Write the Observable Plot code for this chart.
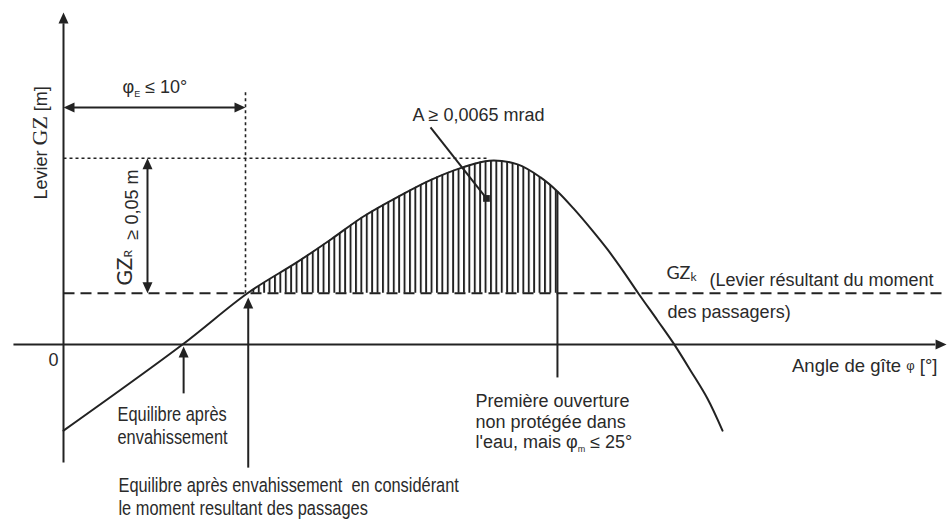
<!DOCTYPE html>
<html>
<head>
<meta charset="utf-8">
<script src="https://cdn.jsdelivr.net/npm/d3@7"></script>
<script src="https://cdn.jsdelivr.net/npm/@observablehq/plot@0.6"></script>
<style>
html, body { margin: 0; padding: 0; background: #fff; }
svg text { white-space: pre; }
</style>
</head>
<body>
<div id="chart"></div>
<script>
// ---- data (angle in degrees, righting lever GZ in metres) ----
const angle = [0, 6.54, 10.11, 12.86, 14.67, 16.48, 18.35, 20.16, 21.98, 23.41, 24.95, 26.21, 27.14, 28.02, 28.96, 29.89, 30.77, 31.59, 32.64, 33.52, 34.45, 35.38, 36.21];
const gz    = [-0.0319, 0.0, 0.019, 0.0306, 0.0388, 0.0474, 0.0546, 0.0609, 0.0657, 0.0681, 0.0667, 0.0619, 0.0567, 0.0504, 0.0430, 0.0352, 0.0270, 0.0189, 0.0089, 0.0004, -0.0096, -0.0200, -0.0319];
const GZk = 0.019;        // heeling lever from passenger moment
const GZR = 0.05;         // required residual lever
const phiE = 10;          // equilibrium limit
const phiEq = 6.6;        // equilibrium after flooding
const phiK = 10.15;       // equilibrium with passenger moment
const phiM = 27.14;       // first unprotected opening
const peakAngle = 23.4;

const curve = angle.map((a, i) => ({a, gz: gz[i]}));
const hatch = curve.filter(d => d.a >= 10.11 && d.a <= phiM);

const ink = "#222";
const txt = "#2a2a2a";
const sans = "'Liberation Sans', Arial, sans-serif";
const narrow = "'Liberation Sans Narrow', 'Arial Narrow', 'Liberation Sans', Arial, sans-serif";
const lato = "Lato, 'Open Sans', sans-serif";

// arrow head symbol: tip at origin, pointing up
const head = {draw(ctx) { ctx.moveTo(0, 0); ctx.lineTo(-5, 11); ctx.lineTo(5, 11); ctx.closePath(); }};

function label(x, y, text, opts = {}) {
  return Plot.text([{x, y, text}], {x: "x", y: "y", text: "text", textAnchor: "start", lineAnchor: "bottom",
    fontSize: 18, fontFamily: sans, fill: txt, ...opts});
}
function seg(list, opts = {}) {
  return Plot.link(list, {x1: "x1", y1: "y1", x2: "x2", y2: "y2", stroke: ink, strokeWidth: 2, ...opts});
}

const plot = Plot.plot({
  width: 948,
  height: 519,
  margin: 0,
  x: {domain: [0, 10], range: [63, 245]},
  y: {domain: [0, 0.05], range: [344, 209]},
  axis: null,
  style: {background: "#fff", fontFamily: sans, fontSize: "18px", color: ink},
  marks: [
    // hatched area A
    Plot.areaY(hatch, {x: "a", y1: GZk, y2: "gz", curve: "catmull-rom", fill: "url(#hatch)"}),
    // dotted guides
    seg([{x1: 0, y1: GZk + GZR, x2: peakAngle, y2: GZk + GZR}, {x1: phiE, y1: GZk, x2: phiE, y2: 0.0941}],
        {strokeWidth: 1.6, strokeDasharray: "3,3"}),
    // dashed GZk line
    seg([{x1: 0, y1: GZk, x2: 48.5, y2: GZk}], {strokeDasharray: "11,6"}),
    // axes and arrow shafts
    seg([
      {x1: 0, y1: -0.0437, x2: 0, y2: 0.119},
      {x1: -2.75, y1: 0, x2: 47.9, y2: 0},
      {x1: 0.5, y1: 0.0878, x2: 9.5, y2: 0.0878},
      {x1: 4.615, y1: GZk + 0.002, x2: 4.615, y2: GZk + GZR - 0.002},
      {x1: phiEq, y1: -0.0181, x2: phiEq, y2: -0.003},
      {x1: phiK, y1: -0.0456, x2: phiK, y2: 0.014},
      {x1: phiM, y1: -0.0122, x2: phiM, y2: 0.0567},
      {x1: 20.165, y1: 0.0804, x2: 23.24, y2: 0.0541}
    ]),
    // GZ curve
    Plot.line(curve, {x: "a", y: "gz", curve: "catmull-rom", stroke: ink, strokeWidth: 2}),
    // arrow heads
    Plot.dot([
      {x: 0, y: 0.1230, r: 0},
      {x: 48.52, y: 0, r: 90},
      {x: 0, y: 0.0878, r: 270},
      {x: phiE, y: 0.0878, r: 90},
      {x: 4.615, y: GZk + GZR, r: 0},
      {x: 4.615, y: GZk, r: 180},
      {x: phiEq, y: -0.0007, r: 0},
      {x: phiK, y: 0.0174, r: 0}
    ], {x: "x", y: "y", rotate: "r", symbol: head, r: 5, fill: ink}),
    Plot.dot([{x: 23.24, y: 0.0541}], {x: "x", y: "y", symbol: "square", r: 3.8, fill: ink}),
    // texts
    label(-0.934, 0.0537, "Levier ⟦s:GZ⟧ [m]", {rotate: -90}),
    label(3.79, 0.02185, "GZ⟦r:R⟧", {rotate: -90, fontFamily: lato, fontSize: 21}),
    label(4.07, 0.0389, "≥ 0,05 m", {rotate: -90}),
    label(3.24, 0.0933, "φ⟦b:E⟧ ≤ 10°"),
    label(19.18, 0.0826, "A ≥ 0,0065 mrad"),
    label(33.13, 0.0244, "GZ⟦k:k⟧", {fontFamily: lato, fontSize: 18}),
    label(35.49, 0.02185, "(Levier résultant du moment"),
    label(33.19, 0.0100, "des passagers)"),
    label(48.02, -0.0100, "Angle de gîte ⟦p:φ⟧ [°]", {textAnchor: "end", fontSize: 18.5}),
    label(-0.55, -0.0078, "0", {textAnchor: "middle"}),
    label(22.64, -0.0385, "Première ouverture\nnon protégée dans\nl'eau, mais φ⟦b:m⟧ ≤ 25°", {lineHeight: 1.14}),
    label(2.967, -0.0367, "Equilibre après\nenvahissement", {fontFamily: narrow, fontSize: 19.5, lineHeight: 1.18}),
    label(3.02, -0.063, "Equilibre après envahissement  en considérant\nle moment resultant des passages", {fontFamily: narrow, fontSize: 19.5, lineHeight: 1.18})
  ]
});

// hatch pattern definition
const NS = "http://www.w3.org/2000/svg";
const defs = document.createElementNS(NS, "defs");
defs.innerHTML = '<pattern id="hatch" patternUnits="userSpaceOnUse" x="247" y="0" width="5.4" height="10">' +
  '<rect width="5.4" height="10" fill="#fff"/><rect x="0" width="1.9" height="10" fill="#222"/></pattern>';
plot.insertBefore(defs, plot.firstChild);

// condensed rendering for the narrow labels (Arial Narrow ~ 0.84 of Arial width)
plot.querySelectorAll('g[font-family*="Narrow"] text').forEach(t => {
  t.setAttribute("transform", (t.getAttribute("transform") || "") + " scale(0.84,1)");
});

// rich text: subscripts and font switches
const rich = {
  s: {"font-family": "'Liberation Serif', 'Times New Roman', serif", "font-size": "22px", dy: 0},
  b: {"font-size": "9px", dy: 4},
  r: {"font-size": "12px", dy: 0},
  k: {"font-size": "12px", dy: 2},
  p: {"font-size": "13px", dy: -2}
};
plot.querySelectorAll("text, tspan").forEach(el => {
  if (el.children.length) return;
  const s = el.textContent;
  if (!s.includes("⟦")) return;
  el.textContent = "";
  const re = /⟦(\w):([^⟧]*)⟧/g;
  let last = 0, shift = 0, m;
  const add = (str, st) => {
    const t = document.createElementNS(NS, "tspan");
    t.textContent = str;
    const target = st ? st.dy : 0;
    if (target - shift) t.setAttribute("dy", target - shift);
    shift = target;
    if (st) for (const [k, v] of Object.entries(st)) if (k !== "dy") { t.setAttribute(k, v); t.style.setProperty(k, v); }
    t.setAttribute("fill", txt);
    el.appendChild(t);
  };
  while ((m = re.exec(s))) {
    if (m.index > last) add(s.slice(last, m.index), null);
    add(m[2], rich[m[1]]);
    last = re.lastIndex;
  }
  if (last < s.length) add(s.slice(last), null);
});

document.getElementById("chart").appendChild(plot);
</script>
</body>
</html>
